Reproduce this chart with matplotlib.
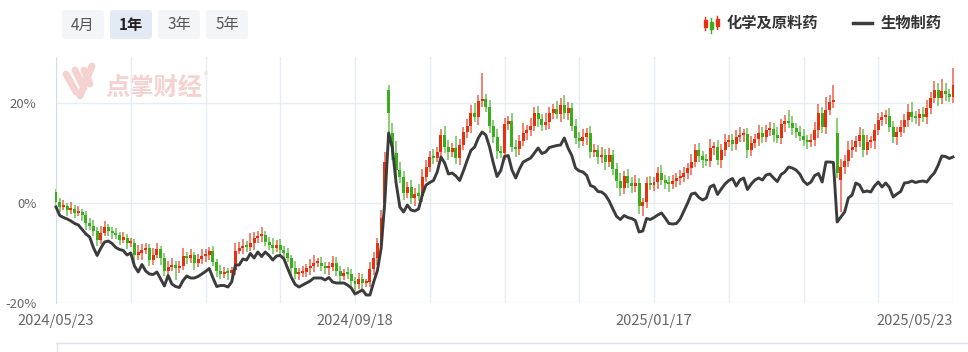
import matplotlib
matplotlib.use('Agg')
import matplotlib.pyplot as plt
from matplotlib.patches import FancyBboxPatch, Rectangle
import numpy as np

plt.rcParams['font.family'] = ['Noto Sans CJK SC', 'DejaVu Sans']

# 化学及原料药 daily close, % change since 2024/05/23
chem_close = [
    0.2, -0.8, -0.6, -1.4, -1.2, -2.0, -1.8, -2.4, -3.9, -4.6,
    -5.6, -7.4, -6.0, -4.8, -5.5, -6.0, -6.4, -7.3, -6.9, -8.0,
    -7.9, -10.3, -9.9, -9.4, -9.0, -11.4, -10.4, -9.2, -11.0, -13.6,
    -12.8, -12.4, -13.0, -12.6, -10.6, -11.0, -10.4, -12.0, -11.2, -10.6,
    -10.4, -9.6, -11.8, -13.6, -14.2, -13.8, -14.0, -13.4, -9.6, -9.0,
    -8.6, -8.8, -8.0, -7.0, -6.6, -6.4, -7.8, -8.4, -9.0, -8.4,
    -9.4, -10.0, -11.0, -13.0, -14.2, -14.0, -13.8, -13.0, -12.6, -12.0,
    -12.0, -12.6, -13.0, -12.8, -12.0, -13.6, -14.5, -14.0, -14.2, -15.6,
    -16.2, -15.2, -16.0, -15.8, -13.2, -11.0, -8.0, -3.0, 8.2, 18.0,
    10.0, 6.6, 5.2, 2.0, 3.2, 1.0, 1.8, 1.5, 5.2, 7.2,
    9.2, 9.0, 10.2, 13.6, 11.2, 10.2, 11.0, 9.0, 11.6, 14.2,
    15.4, 18.0, 17.2, 20.4, 20.8, 19.2, 15.4, 13.2, 10.4, 10.0,
    15.8, 16.4, 11.2, 10.8, 12.4, 14.0, 14.6, 15.4, 18.0, 16.8,
    15.6, 16.2, 18.0, 18.8, 17.8, 19.6, 18.0, 19.0, 15.4, 13.0,
    12.4, 13.2, 14.0, 10.2, 10.6, 9.2, 9.6, 8.2, 9.6, 6.8,
    4.4, 3.0, 5.4, 4.0, 3.4, 4.0, -0.6, 0.2, 4.0, 3.6,
    4.2, 6.0, 4.6, 4.0, 3.8, 4.4, 5.0, 5.2, 6.0, 7.0,
    8.2, 10.6, 9.4, 8.6, 8.4, 11.0, 11.2, 8.6, 10.6, 12.2,
    12.6, 11.8, 13.2, 13.6, 13.9, 10.6, 12.0, 12.8, 14.0, 13.2,
    14.6, 14.8, 13.6, 13.0, 15.8, 16.4, 16.0, 15.0, 14.2, 13.4,
    12.6, 12.2, 12.6, 14.6, 18.0, 15.2, 18.6, 20.2, 20.6, 6.0,
    7.2, 8.4, 10.6, 11.2, 12.4, 13.6, 10.6, 12.2, 12.4, 14.6,
    16.6, 17.2, 17.4, 15.2, 13.2, 14.2, 15.2, 16.6, 18.2, 17.2,
    17.0, 17.8, 17.2, 19.0, 21.0, 22.6, 21.0, 22.4, 21.8, 21.2, 23.6,
]
# days whose open is not the previous close (gaps)
chem_open_gaps = {0: 2.3, 88: 0.0, 89: 22.6, 90: 14.0, 209: 14.0, 210: 4.6}
# shadow lengths above / below the body
chem_upper = [
    0.6, 0.8, 1.2, 0.6, 1.4, 0.8, 1.2, 0.6, 0.8, 1.0, 1.2, 0.8, 1.4, 1.2, 0.6, 0.8, 1.0, 0.6, 1.2, 0.8,
    1.0, 0.8, 1.6, 1.2, 1.0, 0.8, 1.4, 1.2, 0.6, 1.0, 1.2, 1.4, 0.8, 1.0, 1.6, 0.8, 1.2, 0.6, 1.0, 1.4,
    1.2, 0.8, 1.0, 0.6, 1.2, 1.0, 0.8, 0.6, 1.6, 1.2, 1.4, 1.0, 2.0, 1.2, 1.0, 1.6, 0.8, 1.0, 1.4, 1.0,
    1.2, 0.8, 1.0, 0.6, 1.4, 1.0, 1.2, 0.8, 1.4, 1.6, 1.0, 1.2, 0.8, 1.0, 1.4, 1.2, 1.0, 0.8, 1.2, 1.0,
    0.8, 1.2, 1.0, 0.6, 1.4, 1.2, 1.0, 1.6, 2.0, 1.0, 2.0, 2.4, 1.6, 1.2, 1.0, 1.4, 1.2, 2.0, 1.6, 1.4,
    1.2, 1.6, 1.0, 1.2, 1.8, 1.4, 1.0, 2.4, 1.2, 1.0, 1.4, 1.6, 2.0, 1.2, 5.2, 1.0, 1.4, 1.2, 1.6, 1.0,
    1.2, 1.0, 1.6, 1.4, 1.2, 2.0, 1.0, 1.6, 1.2, 1.4, 1.0, 1.8, 1.2, 1.0, 1.6, 1.4, 2.0, 1.2, 1.0, 1.4,
    1.2, 1.6, 1.0, 1.4, 1.2, 1.0, 1.6, 1.2, 1.4, 1.0, 1.2, 1.6, 1.0, 1.4, 1.2, 1.6, 1.0, 0.8, 1.2, 1.4,
    1.0, 1.2, 1.6, 1.0, 1.4, 1.2, 1.0, 1.4, 1.2, 1.0, 1.6, 1.2, 1.4, 1.0, 1.2, 1.8, 1.0, 1.4, 1.2, 1.6,
    1.0, 1.2, 1.4, 1.6, 1.0, 1.2, 1.4, 1.0, 1.6, 1.2, 1.0, 1.4, 1.2, 1.6, 1.0, 1.2, 2.2, 1.4, 1.0, 1.2,
    1.4, 1.0, 1.2, 1.6, 1.8, 1.2, 2.6, 1.4, 3.0, 3.0, 1.6, 1.2, 1.8, 1.4, 1.0, 1.6, 1.2, 1.4, 1.0, 1.2,
    1.4, 1.0, 1.2, 1.6, 1.2, 1.0, 1.4, 1.2, 1.6, 2.0, 1.2, 1.0, 1.4, 1.6, 1.2, 1.8, 1.4, 2.4, 1.6, 1.0, 3.4,
]
chem_lower = [
    0.8, 1.0, 0.6, 1.2, 0.8, 1.0, 0.6, 1.2, 1.4, 0.8, 1.0, 1.2, 0.8, 0.6, 1.0, 1.2, 0.8, 1.0, 0.6, 1.2,
    0.8, 1.2, 1.0, 1.4, 0.8, 1.2, 1.0, 0.6, 1.4, 1.0, 1.2, 0.8, 2.4, 1.0, 0.8, 1.2, 1.0, 1.4, 0.8, 1.0,
    1.2, 1.0, 0.8, 1.2, 1.0, 0.8, 1.4, 1.2, 1.0, 0.6, 1.2, 1.0, 0.8, 1.4, 1.0, 1.2, 0.8, 1.0, 1.2, 0.8,
    1.0, 1.2, 0.8, 1.4, 1.0, 1.2, 0.8, 1.0, 1.4, 1.2, 0.8, 1.0, 1.2, 1.4, 0.8, 1.0, 1.2, 0.8, 1.0, 1.2,
    1.4, 1.0, 1.2, 0.8, 1.0, 1.2, 1.4, 1.6, 1.2, 4.0, 1.4, 1.6, 1.2, 1.4, 1.0, 1.2, 1.6, 1.0, 1.2, 1.0,
    1.0, 1.2, 0.8, 1.4, 1.2, 1.6, 1.0, 1.2, 1.4, 1.0, 1.2, 1.4, 1.0, 1.6, 1.2, 1.0, 1.4, 1.2, 1.6, 1.0,
    1.4, 1.2, 1.0, 1.6, 1.2, 1.0, 1.4, 1.2, 1.0, 1.6, 1.2, 1.0, 1.4, 1.2, 1.0, 1.6, 1.2, 1.4, 1.0, 1.2,
    1.4, 1.0, 1.6, 1.2, 1.0, 1.4, 1.2, 1.6, 1.0, 1.2, 1.4, 1.6, 1.2, 1.0, 1.4, 1.2, 1.6, 2.0, 1.2, 1.0,
    1.2, 1.4, 1.0, 1.2, 1.6, 1.0, 1.2, 1.4, 1.0, 1.2, 1.4, 1.0, 1.2, 1.6, 1.0, 1.2, 1.4, 1.0, 1.6, 1.2,
    1.0, 1.4, 1.2, 1.0, 1.4, 1.6, 1.2, 1.0, 1.4, 1.2, 1.0, 1.2, 1.4, 1.0, 1.2, 1.6, 1.0, 1.4, 1.2, 1.0,
    1.2, 1.4, 1.0, 1.2, 1.6, 1.2, 1.4, 1.0, 1.2, 1.0, 6.4, 1.4, 1.2, 1.6, 1.0, 1.2, 1.4, 1.0, 1.2, 1.6,
    1.0, 1.2, 1.4, 1.0, 1.2, 1.6, 1.0, 1.2, 1.4, 1.0, 1.2, 1.6, 1.0, 1.4, 1.2, 1.0, 1.6, 1.2, 1.4, 1.0, 1.2,
]
# 生物制药, % change since 2024/05/23
bio_line = [
    -0.8, -2.5, -2.9, -3.2, -3.6, -4.1, -4.4, -5.3, -6.2, -6.8,
    -8.9, -10.5, -9.0, -7.8, -7.6, -8.1, -8.9, -9.3, -9.5, -10.4,
    -10.0, -12.6, -13.8, -12.3, -13.6, -14.2, -14.3, -13.8, -15.2, -16.6,
    -14.5, -16.2, -16.7, -16.9, -15.5, -14.6, -15.0, -15.0, -14.7, -14.2,
    -13.7, -13.1, -15.0, -16.7, -16.5, -16.5, -16.8, -15.8, -12.4, -12.4,
    -11.2, -11.4, -10.1, -11.0, -9.8, -10.7, -9.8, -10.5, -11.4, -10.6,
    -10.5, -11.2, -13.1, -14.9, -16.3, -16.8, -16.4, -16.0, -15.6, -15.0,
    -15.0, -15.0, -15.4, -14.9, -15.8, -16.0, -16.0, -16.0, -16.4, -17.0,
    -18.2, -17.8, -17.4, -18.4, -18.4, -15.8, -13.5, -9.0, 0.5, 14.0,
    11.0, 4.0, -0.8, -1.8, -0.4, -1.4, -1.6, -1.2, 1.6, 3.6,
    4.1, 4.5, 6.2, 9.2, 8.0, 5.8, 6.0, 5.4, 4.5, 6.4,
    8.5, 10.5, 11.2, 13.0, 14.2, 13.6, 11.2, 8.0, 5.3, 6.5,
    9.3, 9.5, 6.6, 5.0, 6.8, 8.2, 8.6, 9.0, 10.0, 11.0,
    9.9, 10.2, 11.1, 11.3, 11.5, 11.6, 13.0, 11.0, 9.5, 7.0,
    6.4, 6.2, 5.5, 3.5, 3.2, 2.3, 2.2, 1.6, 0.4, -1.2,
    -2.7, -3.3, -2.5, -2.9, -3.1, -3.5, -5.8, -5.6, -3.1, -3.3,
    -2.9, -2.4, -2.0, -3.0, -4.1, -4.2, -4.1, -3.2, -1.6, 0.0,
    1.8, 2.0, 1.1, 0.6, 1.0, 3.2, 3.6, 1.7, 2.8, 3.8,
    4.5, 4.9, 3.4, 4.6, 5.0, 2.7, 3.8, 4.6, 5.0, 4.6,
    5.6, 5.8, 5.0, 4.3, 5.7, 6.2, 7.2, 7.0, 6.6, 5.8,
    4.4, 3.7, 4.2, 5.5, 5.9, 4.2, 8.2, 8.2, 8.1, -3.8,
    -2.8, -1.8, 1.0, 1.6, 4.0, 3.6, 2.2, 2.4, 2.2, 3.4,
    4.2, 3.2, 4.0, 3.1, 1.2, 1.8, 2.3, 4.0, 4.1, 4.4,
    4.1, 4.3, 4.4, 4.2, 5.2, 6.0, 7.5, 9.4, 9.3, 8.9, 9.2,
]
date_ticks = [0, 80, 160, 240]
date_labels = ['2024/05/23', '2024/09/18', '2025/01/17', '2025/05/23']
pct_ticks = [-20, 0, 20]
period_buttons = ['4月', '1年', '3年', '5年']
legend_names = ['化学及原料药', '生物制药']

RED = '#e6300f'
GREEN = '#3aae1c'
LINE = '#3c3c3c'
GRID = '#e8ecf3'

close = np.array(chem_close)
opens = np.r_[close[0], close[:-1]]
for k, v in chem_open_gaps.items():
    opens[k] = v
high = np.maximum(opens, close) + np.array(chem_upper)
low = np.minimum(opens, close) - np.array(chem_lower)
x = np.arange(len(close))
colors = np.where(close >= opens, RED, GREEN)

fig = plt.figure(figsize=(9.68, 3.52), dpi=100)

# pixel-space layer for buttons, legend, watermark
bg = fig.add_axes([0, 0, 1, 1])
bg.set_xlim(0, 968)
bg.set_ylim(352, 0)
bg.axis('off')

ax = fig.add_axes([56 / 968, 49 / 352, 897 / 968, 246 / 352])
ax.set_facecolor('none')

# period buttons
for i, name in enumerate(period_buttons):
    x0 = 62 + i * 48
    active = name == '1年'
    bg.add_patch(FancyBboxPatch((x0, 10), 42, 29, boxstyle='round,pad=0,rounding_size=3',
                                fc='#e4eaf5' if active else '#f4f5f7', ec='none'))
    bg.text(x0 + 21, 25, name, ha='center', va='center', fontsize=11,
            color='#222222' if active else '#555555',
            fontweight='bold' if active else 'normal')

# legend
for dx, c, b0, b1, w0, w1 in [(-6, RED, 20, 27, 17, 30), (0, GREEN, 22, 29, 18, 33), (6, RED, 19, 26, 16, 29)]:
    bg.plot([711 + dx, 711 + dx], [w0, w1], color=c, lw=1)
    bg.add_patch(Rectangle((711 + dx - 1.5, b0), 3, b1 - b0, color=c))
bg.text(727, 23, legend_names[0], ha='left', va='center', fontsize=11, fontweight='bold', color='#333333')
bg.plot([853, 872], [23, 23], color=LINE, lw=2.5)
bg.text(881, 23, legend_names[1], ha='left', va='center', fontsize=11, fontweight='bold', color='#333333')

# watermark
wm = '#f5d2cf'
for (xa, ya, xb, yb) in [(66, 74, 76, 92), (75, 70, 84, 88), (84, 70, 90, 84), (92, 66, 80, 96)]:
    bg.plot([xa, xb], [ya, yb], color=wm, lw=5, solid_capstyle='round')
bg.text(105, 88, '点掌财经', ha='left', va='center', fontsize=17.5, fontweight='bold', color=wm)
bg.text(206, 76, '®', ha='center', va='center', fontsize=6, color=wm)

# bottom navigator edge
bg.plot([56, 968], [343, 343], color='#dfe4ec', lw=1)
bg.plot([57, 57], [343, 352], color='#dfe4ec', lw=1)

# candles
ax.vlines(x, low, high, colors=colors, lw=1.1, alpha=0.75, clip_on=False, zorder=2)
body_lo = np.minimum(opens, close)
body_h = np.maximum(np.abs(close - opens), 0.5)
ax.bar(x, body_h, bottom=body_lo, width=0.8, color=colors, lw=0, clip_on=False, zorder=3)

ax.plot(x, bio_line, color=LINE, lw=2.1, solid_joinstyle='round', zorder=4, clip_on=False)

ax.set_xlim(0, 240)
ax.set_ylim(-20, 29.2)
ax.set_xticks(date_ticks)
ax.set_xticklabels(date_labels)
ax.set_xticks(np.arange(0, 241, 20), minor=True)
ax.set_yticks(pct_ticks)
ax.set_yticklabels([f'{v}%' for v in pct_ticks])
ax.grid(True, which='both', axis='x', color=GRID, lw=1)
ax.grid(True, which='major', axis='y', color=GRID, lw=1)
ax.set_axisbelow(True)
ax.tick_params(axis='both', which='both', length=0, labelcolor='#666666')
ax.tick_params(axis='x', pad=8, labelsize=10.5)
ax.tick_params(axis='y', pad=14, labelsize=9.5)
labels = ax.get_xticklabels()
labels[-1].set_ha('right')
for s in ['top', 'right', 'bottom']:
    ax.spines[s].set_visible(False)
ax.spines['left'].set_color('#d5dce8')

fig.savefig('out.png', dpi=100)
